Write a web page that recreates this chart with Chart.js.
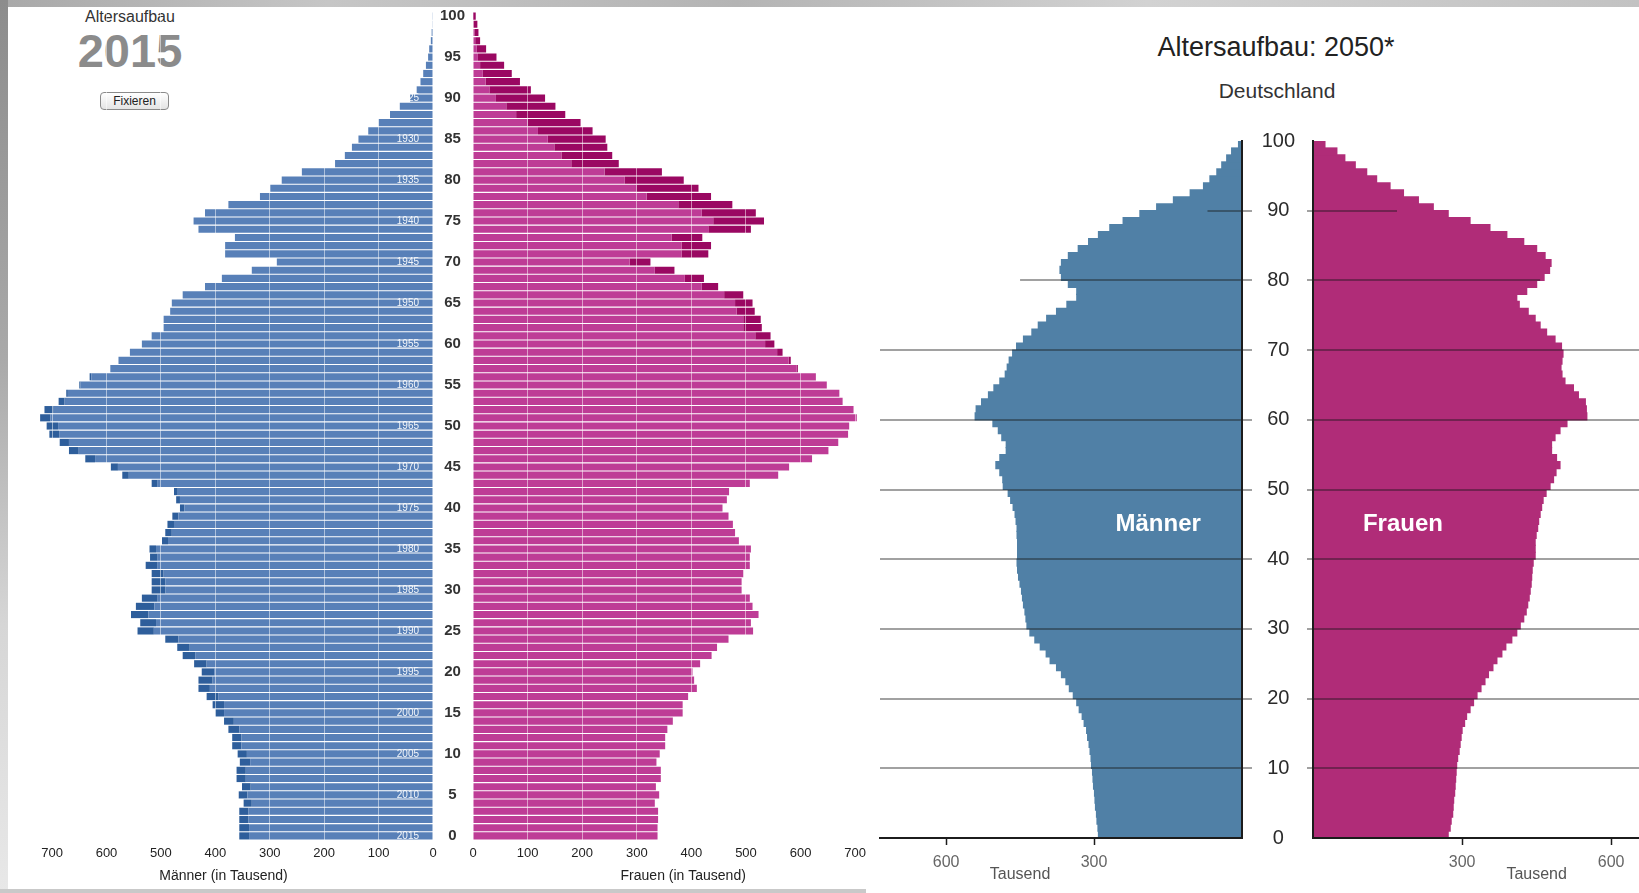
<!DOCTYPE html>
<html>
<head>
<meta charset="utf-8">
<script src="https://cdn.jsdelivr.net/npm/chart.js@4.4.1/dist/chart.umd.min.js"></script>
<style>
  html, body { margin:0; padding:0; background:#fff; width:1639px; height:893px; overflow:hidden;
    font-family:"Liberation Sans", Arial, Helvetica, sans-serif; }
  .abs { position:absolute; }
  canvas { position:absolute; }
  .btn { position:absolute; left:100px; top:92px; width:69px; height:18px; box-sizing:border-box;
    border:1px solid #8a8a8a; border-radius:4px; background:linear-gradient(#ffffff,#e4e4e4);
    font-size:12px; line-height:16px; text-align:center; color:#222; }
</style>
</head>
<body>
<!-- decorative frame -->
<div class="abs" style="left:0;top:0;width:1639px;height:7px;background:linear-gradient(90deg,#a8a8a8,#c6c6c6 20%,#b4b4b4 45%,#d2d2d2 70%,#c2c2c2)"></div>
<div class="abs" style="left:0;top:0;width:8px;height:893px;background:linear-gradient(180deg,#8c8c8c,#a9a9a9 40%,#d6d6d6 70%,#e8e8e8)"></div>
<div class="abs" style="left:0;top:889px;width:866px;height:4px;background:#c9c9c9"></div>

<!-- left panel headings -->
<div class="abs" style="left:30px;top:7px;width:200px;text-align:center;font-size:16px;line-height:20px;color:#333">Altersaufbau</div>
<div class="abs" style="left:30px;top:26px;width:200px;text-align:center;font-size:47px;line-height:50px;font-weight:bold;color:#8b8b8b">2015</div>
<div class="btn">Fixieren</div>

<!-- right panel headings -->
<div class="abs" style="left:1076px;top:31px;width:400px;text-align:center;font-size:27px;line-height:32px;color:#222">Altersaufbau: 2050*</div>
<div class="abs" style="left:1127px;top:79px;width:300px;text-align:center;font-size:21px;line-height:24px;color:#333">Deutschland</div>

<canvas id="m15" width="440" height="893" style="left:0;top:0"></canvas>
<canvas id="f15" width="470" height="893" style="left:433px;top:0"></canvas>
<canvas id="m50" width="392" height="893" style="left:860px;top:0"></canvas>
<canvas id="f50" width="384" height="893" style="left:1255px;top:0"></canvas>

<script>
const FONT = '"Liberation Sans", Arial, Helvetica, sans-serif';

// ---------- categories & tick labels ----------
const AGES_2015 = Array.from({length: 101}, (_, i) => i);   // 0 … 100
const AGES_2050 = Array.from({length: 100}, (_, i) => i);   // 0 … 99
const YEAR_2015 = 2015;
const X_TICKS_2015 = [0, 100, 200, 300, 400, 500, 600, 700];
const X_TICKS_2050 = [300, 600];
const AGE_TICKS_2050 = [0, 10, 20, 30, 40, 50, 60, 70, 80, 90, 100];

// ---------- 2015 (thousands, index = age 0..100) ----------
const male2015 = [
  356,356,356,356,348,357,351,361,361,355,
  359,369,369,376,384,400,405,416,431,431,
  425,439,460,470,492,543,538,555,546,535,
  517,517,517,528,520,521,498,492,488,479,
  465,472,476,517,571,592,639,669,686,705,
  710,722,714,688,674,650,631,593,578,557,
  535,517,495,495,483,480,460,419,388,333,
  287,382,382,364,431,440,419,376,318,299,
  278,241,180,162,149,137,119,100,79,61,
  42,30,23,18,13,9,7,4,2.5,1.2,
  0.6
];
const female2015 = [
  338,338,339,339,333,341,335,344,344,336,
  342,352,352,356,366,384,384,394,410,405,
  402,416,437,447,468,513,509,523,512,507,
  492,492,495,507,507,509,487,480,476,468,
  457,465,469,507,559,579,621,651,669,687,
  689,703,697,677,671,648,628,595,582,567,
  552,545,529,527,516,512,495,449,423,369,
  325,431,436,420,509,533,518,475,436,413,
  386,346,267,255,246,243,219,197,169,151,
  132,106,86,71,57,43,24,13,10,8,
  5
];

// ---------- 2050 projection (thousands, index = age 0..99) ----------
const male2050 = [
  291,292,294,295,297,298,299,301,302,303,
  305,306,308,310,313,315,320,324,330,335,
  342,350,357,366,376,389,397,409,420,430,
  436,438,440,443,445,447,450,453,455,456,
  455,455,455,456,456,458,460,464,469,474,
  484,485,491,499,491,478,478,487,494,505,
  541,539,528,514,503,491,480,476,472,465,
  457,443,426,413,396,376,355,335,335,352,
  366,369,366,352,332,311,291,268,241,207,
  173,139,105,78,65,51,41,31,21,7
];
const female2050 = [
  272,276,278,281,282,283,285,286,287,288,
  289,291,294,296,298,300,305,309,316,323,
  330,338,346,353,362,370,380,388,400,410,
  417,424,429,432,435,437,439,440,441,443,
  447,447,447,449,452,454,457,460,463,469,
  477,484,489,497,490,480,480,487,497,511,
  551,550,548,534,524,507,501,499,501,503,
  500,487,470,457,447,433,415,410,430,450,
  465,476,479,467,450,424,390,356,316,272,
  242,212,182,155,128,108,85,64,48,24
];

// ---------- colours ----------
const COL = {
  m15: '#5880b8', m15dark: '#2e5e9b',
  f15: '#be3c96', f15dark: '#9a0862',
  m50: '#5080a6', f50: '#b02c78',
  grid50: 'rgba(20,20,20,0.40)', axis50: '#1c1c1c'
};

// base (common part) + surplus (dark part) of each sex
const male15Base = male2015.map((m, i) => Math.min(m, female2015[i]));
const male15Surplus = male2015.map((m, i) => Math.max(0, m - female2015[i]));
const female15Base = female2015.map((f, i) => Math.min(f, male2015[i]));
const female15Surplus = female2015.map((f, i) => Math.max(0, f - male2015[i]));

function fixPad(s) { s.paddingLeft = 0; s.paddingRight = 0; s.paddingTop = 0; s.paddingBottom = 0; }
const BAR15 = { barPercentage: 1, categoryPercentage: 0.87, inflateAmount: 0, borderWidth: 0 };
const BAR50 = { barPercentage: 1, categoryPercentage: 1, borderWidth: 0, inflateAmount: 0.6 };
const noPlugins = { legend: {display: false}, tooltip: {enabled: false} };

// ---------- plugins ----------
const yearLabels = {
  id: 'yearLabels',
  afterDraw(chart) {
    const {ctx, chartArea, scales: {y}} = chart;
    ctx.save();
    ctx.font = '10px ' + FONT;
    ctx.fillStyle = 'rgba(255,255,255,0.92)';
    ctx.textAlign = 'right';
    ctx.textBaseline = 'middle';
    AGES_2015.forEach((a, i) => {
      if (a % 5 === 0) ctx.fillText(String(YEAR_2015 - a), chartArea.right - 14, y.getPixelForValue(i));
    });
    ctx.restore();
  }
};
function partialGrid(lines) {
  return {
    id: 'partialGrid',
    afterDatasetsDraw(chart) {
      const {ctx, scales: {x, yAge}} = chart;
      ctx.save();
      ctx.strokeStyle = COL.grid50;
      ctx.lineWidth = 2;
      lines.forEach(l => {
        const y = Math.round(yAge.getPixelForValue(l.age));
        ctx.beginPath();
        ctx.moveTo(x.getPixelForValue(0), y);
        ctx.lineTo(x.getPixelForValue(l.to), y);
        ctx.stroke();
      });
      ctx.restore();
    }
  };
}
function textNotes(notes) {
  return {
    id: 'textNotes',
    afterDraw(chart) {
      const {ctx, chartArea, scales: {x, yAge}} = chart;
      ctx.save();
      ctx.textAlign = 'center';
      ctx.textBaseline = 'middle';
      notes.forEach(n => {
        ctx.font = n.font;
        ctx.fillStyle = n.color;
        const px = x.getPixelForValue(n.value);
        const py = n.age !== undefined ? yAge.getPixelForValue(n.age) : chartArea.bottom + n.below;
        ctx.fillText(n.text, px, py);
      });
      ctx.restore();
    }
  };
}

// ---------- 2015 pyramid ----------
function x2015(reverse, title) {
  return {
    type: 'linear', min: 0, max: 770, reverse, stacked: true,
    afterBuildTicks: s => { s.ticks = X_TICKS_2015.map(v => ({value: v})); },
    ticks: { font: {family: FONT, size: 13}, color: '#222', padding: 6, maxRotation: 0, autoSkip: false },
    grid: { z: 1, drawTicks: false, lineWidth: 1,
            color: c => (c.tick && c.tick.value > 0) ? 'rgba(255,255,255,0.5)' : 'rgba(0,0,0,0)' },
    border: { display: false },
    title: { display: true, text: title, font: {family: FONT, size: 14}, color: '#222', padding: {top: 0, bottom: 8} },
    afterFit: s => { s.height = 53; fixPad(s); }
  };
}

new Chart(document.getElementById('m15'), {
  type: 'bar',
  data: { labels: AGES_2015, datasets: [
    { data: male15Base, backgroundColor: COL.m15, ...BAR15 },
    { data: male15Surplus, backgroundColor: COL.m15dark, ...BAR15 }
  ]},
  options: {
    responsive: false, animation: false, indexAxis: 'y', events: [],
    layout: { padding: {left: 14, right: 7, top: 12, bottom: 0} },
    plugins: noPlugins,
    scales: {
      x: x2015(true, 'Männer (in Tausend)'),
      y: { type: 'category', reverse: true, stacked: true, display: false }
    }
  },
  plugins: [yearLabels]
});

new Chart(document.getElementById('f15'), {
  type: 'bar',
  data: { labels: AGES_2015, datasets: [
    { data: female15Base, backgroundColor: COL.f15, ...BAR15 },
    { data: female15Surplus, backgroundColor: COL.f15dark, ...BAR15 }
  ]},
  options: {
    responsive: false, animation: false, indexAxis: 'y', events: [],
    layout: { padding: {left: 0, right: 9.6, top: 12, bottom: 0} },
    plugins: noPlugins,
    scales: {
      x: x2015(false, 'Frauen (in Tausend)'),
      y: { type: 'category', reverse: true, stacked: true, position: 'left',
           grid: { display: false, drawTicks: false }, border: { display: false },
           ticks: { autoSkip: false, font: {family: FONT, size: 15, weight: 'bold'}, color: '#333',
                    crossAlign: 'center', padding: 8,
                    callback(v) { const a = this.getLabelForValue(v); return a % 5 === 0 ? String(a) : ''; } },
           afterFit: s => { s.width = 40; fixPad(s); } }
    }
  }
});

// ---------- 2050 pyramid ----------
function x2050(reverse, max) {
  return {
    type: 'linear', min: 0, max, reverse, offset: false,
    afterBuildTicks: s => { s.ticks = X_TICKS_2050.map(v => ({value: v})); },
    ticks: { font: {family: FONT, size: 16}, color: '#666', padding: 8, maxRotation: 0 },
    grid: { offset: false, drawOnChartArea: false, drawTicks: true, tickLength: 7, tickColor: COL.axis50, tickWidth: 1.5 },
    border: { display: true, color: COL.axis50, width: 2, z: 2 },
    afterFit: s => { s.height = 55; fixPad(s); }
  };
}
function yAge2050(position, showLabels, tickLen) {
  return {
    type: 'linear', min: 0, max: 100, position, offset: false,
    afterBuildTicks: s => { s.ticks = AGE_TICKS_2050.map(v => ({value: v})); },
    ticks: { display: showLabels, font: {family: FONT, size: 20}, color: '#2a2a2a',
             crossAlign: 'center', padding: 12 },
    grid: { offset: false, z: 1, lineWidth: 2, drawTicks: true, tickLength: tickLen,
            color: c => (c.tick && c.tick.value >= 10 && c.tick.value <= 70) ? COL.grid50 : 'rgba(0,0,0,0)',
            tickColor: c => (c.tick && c.tick.value >= 10 && c.tick.value <= 90) ? COL.grid50 : 'rgba(0,0,0,0)' },
    border: { display: true, color: COL.axis50, width: 2, z: 2 },
    afterFit: s => { s.width = showLabels ? 58 : tickLen; fixPad(s); }
  };
}

new Chart(document.getElementById('m50'), {
  type: 'bar',
  data: { labels: AGES_2050, datasets: [
    { data: male2050, backgroundColor: COL.m50, xAxisID: 'x', yAxisID: 'yCat', ...BAR50 }
  ]},
  options: {
    responsive: false, animation: false, indexAxis: 'y', events: [],
    layout: { padding: {left: 20, right: 0, top: 141, bottom: 0} },
    plugins: noPlugins,
    scales: {
      x: x2050(true, 734),
      yCat: { type: 'category', reverse: true, display: false },
      yAge: yAge2050('right', false, 10)
    }
  },
  plugins: [
    partialGrid([{age: 80, to: 450}, {age: 90, to: 70}]),
    textNotes([
      {text: 'Tausend', value: 450, below: 37, font: '16px ' + FONT, color: '#555'},
      {text: 'Männer', value: 170, age: 45, font: 'bold 24px ' + FONT, color: '#ffffff'}
    ])
  ]
});

new Chart(document.getElementById('f50'), {
  type: 'bar',
  data: { labels: AGES_2050, datasets: [
    { data: female2050, backgroundColor: COL.f50, xAxisID: 'x', yAxisID: 'yCat', ...BAR50 }
  ]},
  options: {
    responsive: false, animation: false, indexAxis: 'y', events: [],
    layout: { padding: {left: 0, right: 0, top: 141, bottom: 0} },
    plugins: noPlugins,
    scales: {
      x: x2050(false, 656),
      yCat: { type: 'category', reverse: true, display: false },
      yAge: yAge2050('left', true, 6)
    }
  },
  plugins: [
    partialGrid([{age: 80, to: 457}, {age: 90, to: 169}]),
    textNotes([
      {text: 'Tausend', value: 450, below: 37, font: '16px ' + FONT, color: '#555'},
      {text: 'Frauen', value: 181, age: 45, font: 'bold 24px ' + FONT, color: '#ffffff'}
    ])
  ]
});
</script>
</body>
</html>
